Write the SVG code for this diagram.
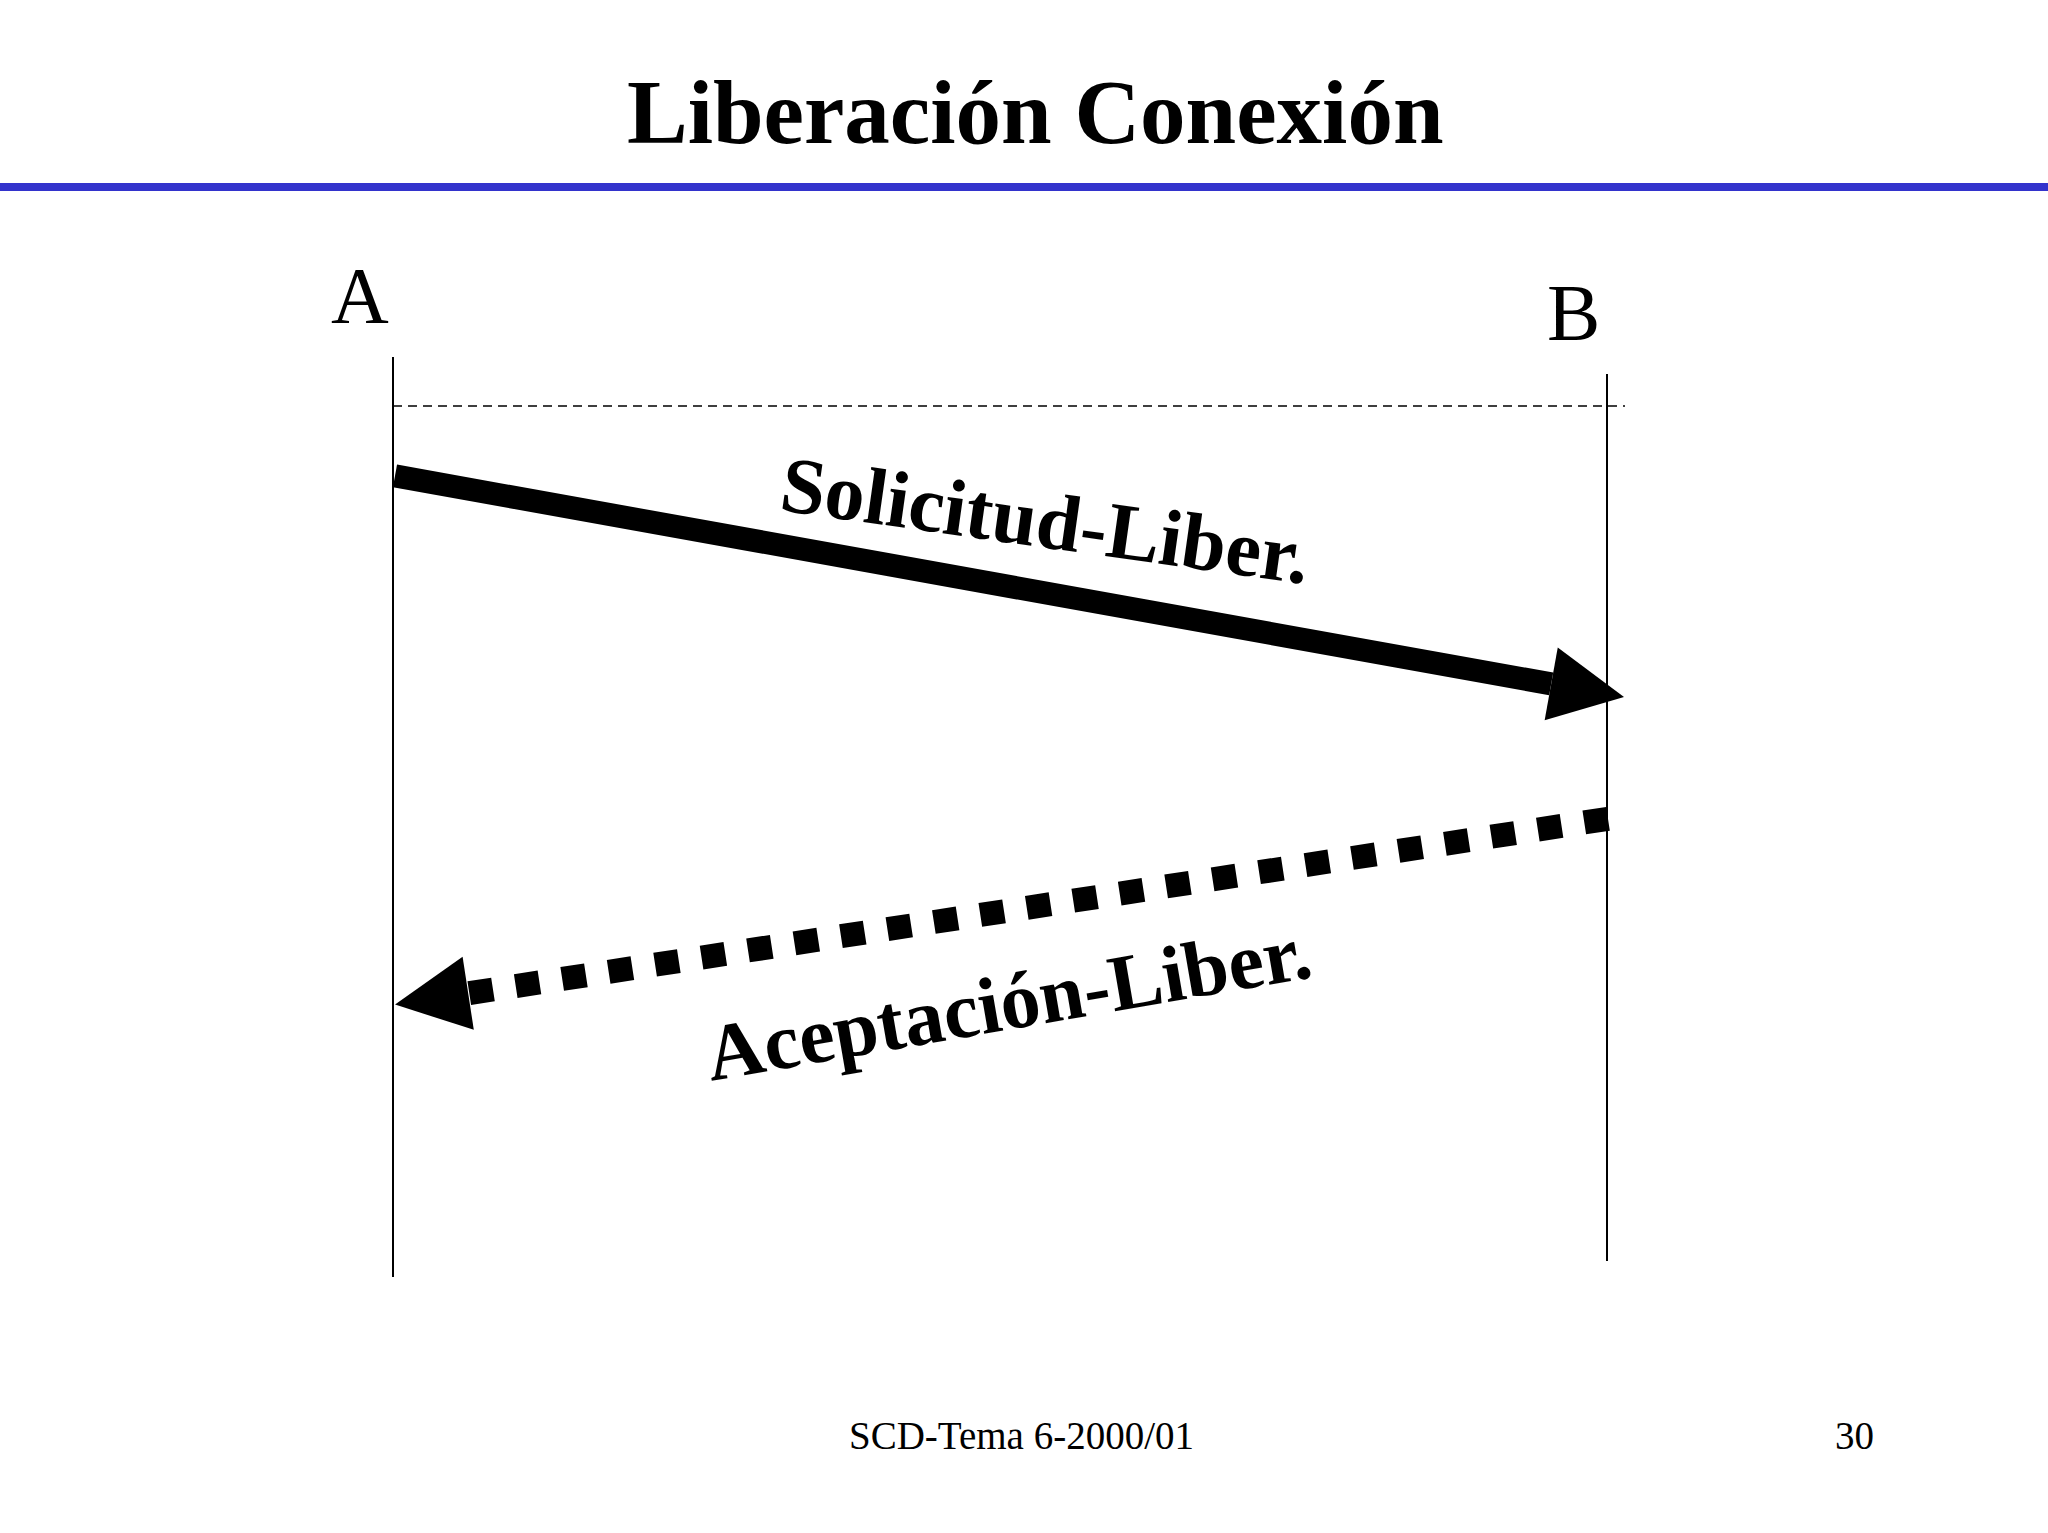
<svg xmlns="http://www.w3.org/2000/svg" width="2048" height="1533" viewBox="0 0 2048 1533">
  <style>
    .serif { font-family: "Liberation Serif", "Times New Roman", serif; fill: #000; }
    .bold { font-weight: bold; }
    .life { stroke: #000; stroke-width: 2; fill: none; }
    .dash { stroke: #000; stroke-width: 1.5; stroke-dasharray: 9 6; fill: none; }
    .msg { stroke: #000; fill: none; stroke-linecap: butt; }
  </style>
  <defs>
    <marker id="head" markerUnits="userSpaceOnUse" viewBox="0 -37 74 74" markerWidth="74" markerHeight="74" refX="0" refY="0" orient="auto" overflow="visible">
      <path d="M0,-37 L74,0 L0,37 Z" fill="#000" stroke="none"/>
    </marker>
  </defs>
  <rect width="2048" height="1533" fill="#fff"/>

  <g id="header">
    <text class="serif bold" x="627" y="143" font-size="91">Liberación Conexión</text>
    <rect x="0" y="183" width="2048" height="8" fill="#3333cc"/>
  </g>

  <g id="node-A">
    <text class="serif" x="331" y="323" font-size="80">A</text>
    <line class="life" x1="393" y1="357" x2="393" y2="1277"/>
  </g>

  <g id="node-B">
    <text class="serif" x="1547" y="340" font-size="80">B</text>
    <line class="life" x1="1607" y1="374" x2="1607" y2="1261"/>
  </g>

  <g id="connectors">
    <line class="dash" x1="393" y1="406" x2="1625" y2="406"/>
    <line id="solicitud" class="msg" x1="395" y1="475.9" x2="1551.2" y2="683.9" stroke-width="23" marker-end="url(#head)"/>
    <line id="aceptacion" class="msg" x1="1608" y1="818.8" x2="468.2" y2="993.3" stroke-width="24" stroke-dasharray="24 23" marker-end="url(#head)"/>
  </g>

  <g id="labels">
    <text class="serif bold" font-size="80" transform="translate(778,510) rotate(8)">Solicitud-Liber.</text>
    <text class="serif bold" font-size="80" transform="translate(711,1081) rotate(-9.8)">Aceptación-Liber.</text>
  </g>

  <g id="footer">
    <text class="serif" x="849" y="1449" font-size="39">SCD-Tema 6-2000/01</text>
    <text class="serif" x="1874" y="1449" font-size="39" text-anchor="end">30</text>
  </g>
</svg>
